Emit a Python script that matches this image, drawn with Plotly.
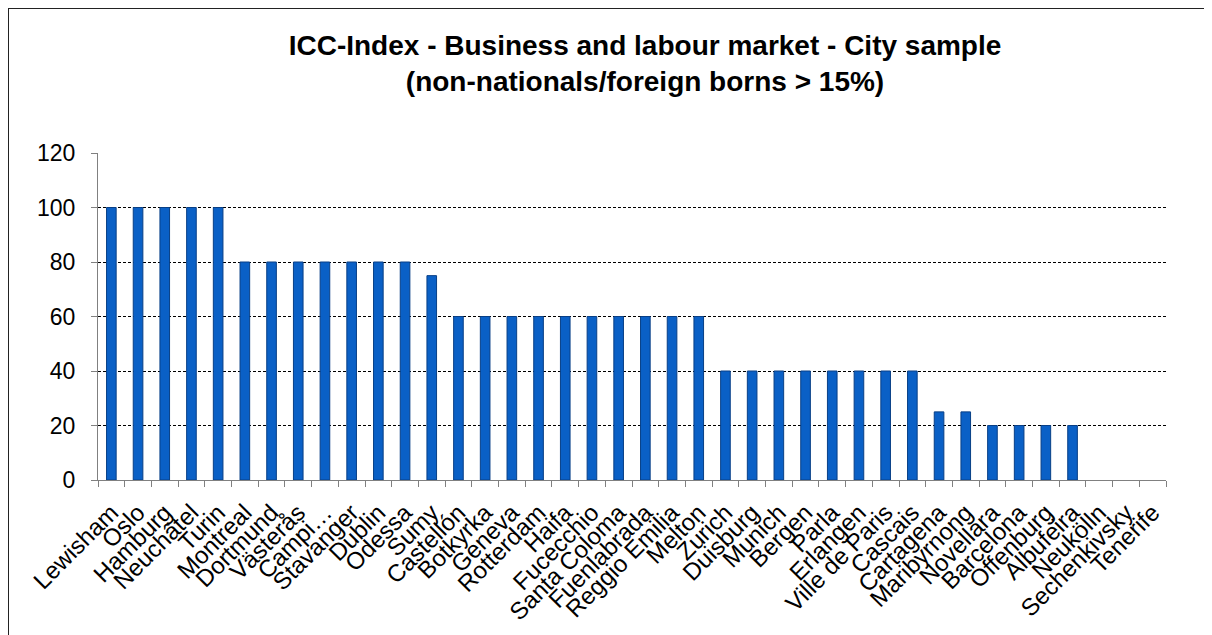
import plotly.graph_objects as go

cities = ["Lewisham", "Oslo", "Hamburg", "Neuchâtel", "Turin", "Montreal", "Dortmund",
          "Västerås", "Campi…", "Stavanger", "Dublin", "Odessa", "Sumy", "Castellón",
          "Botkyrka", "Geneva", "Rotterdam", "Haifa", "Fucecchio", "Santa Coloma",
          "Fuenlabrada", "Reggio Emilia", "Melton", "Zurich", "Duisburg", "Munich",
          "Bergen", "Parla", "Erlangen", "Ville de Paris", "Cascais", "Cartagena",
          "Maribyrnong", "Novellara", "Barcelona", "Offenburg", "Albufeira", "Neukölln",
          "Sechenkivsky", "Tenerife"]
values = [100, 100, 100, 100, 100, 80, 80, 80, 80, 80, 80, 80, 75,
          60, 60, 60, 60, 60, 60, 60, 60, 60, 60,
          40, 40, 40, 40, 40, 40, 40, 40,
          25, 25, 20, 20, 20, 20, 0, 0, 0]
y_ticks = [0, 20, 40, 60, 80, 100, 120]

W, H = 1212, 635
# page has an 8px body margin, so figure coords = page coords - 8
L, R, T, B = 90, 54, 145, 163

fig = go.Figure(go.Bar(
    x=cities, y=values,
    marker=dict(color="#0A60C6",
                line=dict(color="#083F86", width=[1 if v > 0 else 0 for v in values])),
))

pw, ph = W - L - R, H - T - B
def px(x):
    return (x - L) / pw
def py(y):
    return (H - B - y) / ph

fig.update_layout(
    width=W, height=H,
    margin=dict(l=L, r=R, t=T, b=B, autoexpand=False),
    paper_bgcolor="white", plot_bgcolor="white",
    bargap=0.64,
    showlegend=False,
    font=dict(family="Liberation Sans, Arial, sans-serif", color="black"),
    title=dict(
        text="ICC-Index - Business and labour market - City sample<br>(non-nationals/foreign borns > 15%)",
        x=637 / W, xanchor="center", y=1 - 47 / H, yanchor="top",
        font=dict(size=28, family="Liberation Sans, Arial, sans-serif", color="black", weight="bold"),
    ),
    xaxis=dict(
        tickmode="array", tickvals=cities, ticktext=cities,
        tickangle=-45, tickfont=dict(size=24), automargin=False,
        showline=True, linecolor="#808080", linewidth=1,
        ticks="outside", ticklen=6, tickcolor="#808080", tickson="boundaries",
        showgrid=False, range=[-0.5, len(cities) - 0.5], ticklabelstandoff=8,
    ),
    yaxis=dict(
        range=[0, 120], tickvals=y_ticks, tickfont=dict(size=23), automargin=False,
        showline=True, linecolor="#808080", linewidth=1,
        ticks="outside", ticklen=6, tickcolor="#808080",
        showgrid=True, gridcolor="black", gridwidth=1, griddash="3px,2px",
        zeroline=False, ticklabelstandoff=11,
    ),
    shapes=[
        dict(type="line", xref="paper", yref="paper",
             x0=px(0), x1=px(W), y0=py(0), y1=py(0),
             line=dict(color="#222222", width=2)),
        dict(type="line", xref="paper", yref="paper",
             x0=px(0), x1=px(0), y0=py(0), y1=py(H),
             line=dict(color="#222222", width=2)),
    ],
)

fig.write_html("out.html")
